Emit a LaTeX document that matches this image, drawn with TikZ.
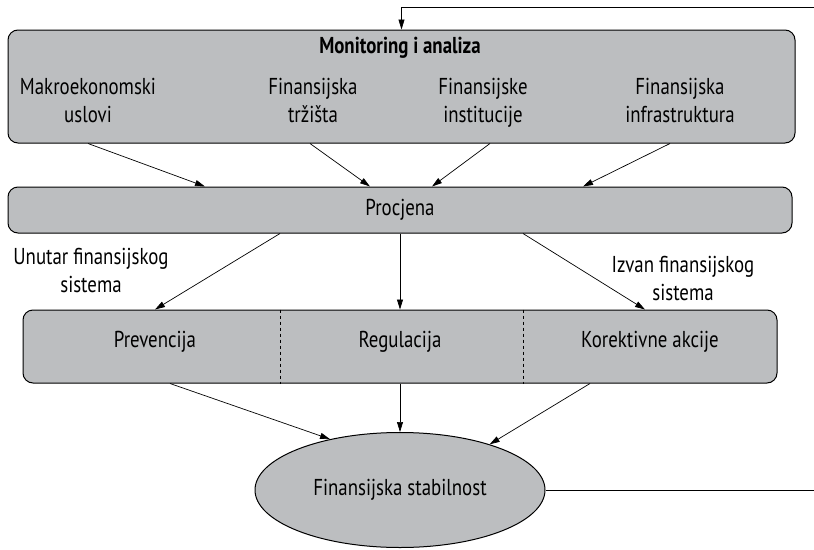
\documentclass[tikz,border=0pt]{standalone}
\usepackage{fontspec}
\setmainfont[FakeStretch=0.82]{PT Sans}
\usetikzlibrary{arrows.meta}
\usetikzlibrary{shapes.geometric}

\definecolor{boxgray}{RGB}{188,190,192}

\begin{document}
\begin{tikzpicture}[
    x=1pt, y=-1pt,
    every node/.style={font=\fontsize{23}{28}\selectfont, inner sep=0pt},
    stagebox/.style={draw, fill=boxgray, rounded corners=10pt, line width=1pt},
    label_text/.style={align=center},
    arr/.style={-{Triangle[length=10pt,width=6pt]}, line width=0.7pt}
  ]

% Fix the picture size to the reference (814 x 549)
\useasboundingbox (0,0) rectangle (814,549);

% Top stage: monitoring box with its four areas
% (\strut on every line keeps the two-line labels on the same baselines)
\node[stagebox, minimum width=787pt, minimum height=113pt] (monitor) at (401.5,86.5) {};
\node[font=\fontsize{23}{28}\selectfont\bfseries] (title) at (400,48) {Monitoring i analiza};
\node[label_text] (makro) at (88,103)  {Makroekonomski\strut\\uslovi\strut};
\node[label_text] (trzista) at (313,103) {Finansijska\strut\\tržišta\strut};
\node[label_text] (instit) at (483,103) {Finansijske\strut\\institucije\strut};
\node[label_text] (infra) at (680,103) {Finansijska\strut\\infrastruktura\strut};

% Assessment bar
\node[stagebox, minimum width=784pt, minimum height=46pt] (procjena) at (400,210) {Procjena};

% Action bar, split in three parts by dashed lines
\node[stagebox, minimum width=754pt, minimum height=73pt] (akcije) at (400,346.5) {};
\node (prev) at (155,342) {Prevencija};
\node (regul) at (400,342) {Regulacija};
\node (korek) at (650,342) {Korektivne akcije};
\draw[dashed, line width=0.5pt] ([xshift=-120pt]akcije.north) -- ([xshift=-120pt]akcije.south);
\draw[dashed, line width=0.5pt] ([xshift=123pt]akcije.north) -- ([xshift=123pt]akcije.south);

% Side labels between assessment and actions
\node[label_text] (unutar) at (91,273) {Unutar finansijskog\strut\\sistema\strut};
\node[label_text] (izvan) at (683,281) {Izvan finansijskog\strut\\sistema\strut};

% Goal
\node[ellipse, draw, fill=boxgray, line width=1pt, minimum width=290pt, minimum height=115pt] (stab) at (400,490) {Finansijska stabilnost};

% Arrows from monitoring areas to assessment
\draw[arr] (makro |- monitor.south) -- ([xshift=-195pt]procjena.north);
\draw[arr] ([xshift=-3pt]trzista |- monitor.south) -- ([xshift=-30pt]procjena.north);
\draw[arr] ([xshift=7pt]instit |- monitor.south) -- ([xshift=32pt]procjena.north);
\draw[arr] ([xshift=-10pt]infra |- monitor.south) -- ([xshift=183pt]procjena.north);

% Arrows from assessment to actions
\draw[arr] ([xshift=-120pt]procjena.south) -- (prev |- akcije.north);
\draw[arr] (procjena.south) -- (regul |- akcije.north);
\draw[arr] ([xshift=123pt]procjena.south) -- ([xshift=-5pt]korek |- akcije.north);

% Arrows from actions to the goal
\draw[arr] ([xshift=15pt]prev |- akcije.south) -- (stab.144);
\draw[arr] (regul |- akcije.south) -- (stab.north);
\draw[arr] ([xshift=-60pt]korek |- akcije.south) -- (stab.27);

% Feedback loop (leaves the picture on the right)
\coordinate (fb_out) at (814,490);
\coordinate (fb_in) at (814,7);
\draw[line width=0.7pt] (stab.east) -- (fb_out);
\draw[arr] (fb_in) -| (monitor.north);

\end{tikzpicture}
\end{document}
